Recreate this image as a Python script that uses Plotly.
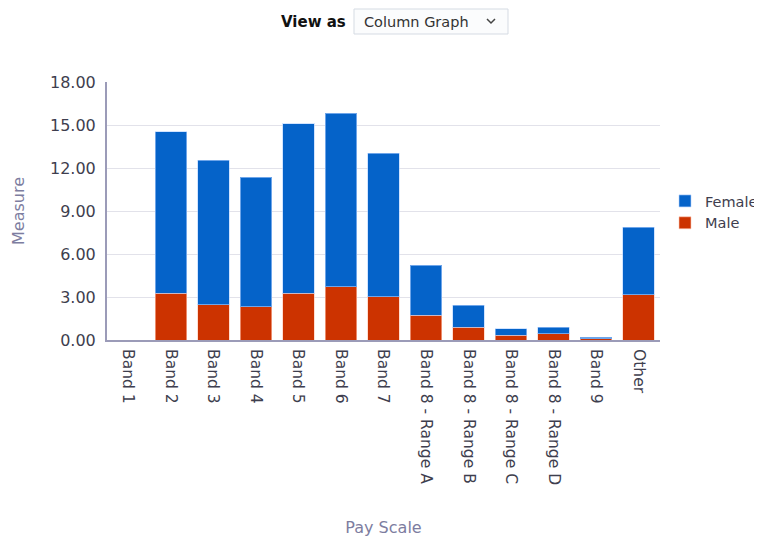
import plotly.graph_objects as go

categories = ["Band 1", "Band 2", "Band 3", "Band 4", "Band 5", "Band 6", "Band 7",
              "Band 8 - Range A", "Band 8 - Range B", "Band 8 - Range C",
              "Band 8 - Range D", "Band 9", "Other"]
male = [0, 3.27, 2.45, 2.31, 3.27, 3.73, 3.03, 1.73, 0.89, 0.33, 0.44, 0.09, 3.15]
female = [0, 11.25, 10.09, 9.04, 11.83, 12.10, 10.00, 3.50, 1.53, 0.47, 0.45, 0.11, 4.70]
y_ticks = [0, 3, 6, 9, 12, 15, 18]
y_tick_labels = ["0.00", "3.00", "6.00", "9.00", "12.00", "15.00", "18.00"]

FONT = "DejaVu Sans"
OFF = 8  # page body margin
W, H = 762 - OFF, 542 - OFF
L, R, T, B = 107 - OFF, 660 - OFF, 82 - OFF, 340 - OFF


def px(x):
    return (x - OFF - L) / (R - L)


def py(y):
    return (B - (y - OFF)) / (B - T)


fig = go.Figure()
fig.add_trace(go.Bar(x=categories, y=male, name="Male",
                     marker=dict(color="#cc3300", line=dict(color="rgba(255,200,180,0.6)", width=1))))
fig.add_trace(go.Bar(x=categories, y=female, name="Female",
                     marker=dict(color="#0563c9", line=dict(color="rgba(180,210,255,0.6)", width=1))))

fig.update_layout(
    width=W, height=H,
    margin=dict(l=L, r=W - R, t=T, b=H - B, autoexpand=False),
    barmode="stack", bargap=0.26,
    plot_bgcolor="white", paper_bgcolor="white",
    font=dict(family=FONT, size=16, color="#3e3e4e"),
    legend=dict(x=px(665), y=py(185), xanchor="left", yanchor="top",
                traceorder="reversed", font=dict(size=14.5, color="#3e3e4e"),
                itemwidth=30, tracegroupgap=0, bgcolor="rgba(0,0,0,0)"),
    xaxis=dict(
        tickangle=90, showgrid=False, showline=True, linecolor="#9b9bb8", linewidth=2,
        ticklabelstandoff=4,
        tickfont=dict(size=15.5, color="#3e3e4e"),
        title=dict(text="Pay Scale", font=dict(size=16, color="#7d7da0"), standoff=38),
        automargin=False,
    ),
    yaxis=dict(
        range=[0, 18], tickvals=y_ticks, ticktext=y_tick_labels,
        showgrid=True, gridcolor="#e2e2ea", gridwidth=1,
        showline=True, linecolor="#9b9bb8", linewidth=2, zeroline=False,
        ticklabelstandoff=6,
        tickfont=dict(size=16, color="#3e3e4e"),
        title=dict(text="Measure", font=dict(size=16, color="#7d7da0"), standoff=21),
        automargin=False,
    ),
    showlegend=True,
)

# "View as" dropdown header
fig.add_shape(type="rect", xref="paper", yref="paper",
              x0=px(354), x1=px(508), y0=py(34), y1=py(9),
              line=dict(color="#d5dbe3", width=1), fillcolor="#fbfcfd", layer="above")
fig.add_annotation(text="<b>View as</b>", xref="paper", yref="paper",
                   x=px(348), y=py(21.5), xanchor="right", yanchor="middle",
                   showarrow=False, font=dict(family=FONT, size=15, color="#111111"))
fig.add_annotation(text="Column Graph", xref="paper", yref="paper",
                   x=px(362), y=py(21.5), xanchor="left", yanchor="middle",
                   showarrow=False, font=dict(family=FONT, size=14.5, color="#333333"))
cx0, cy0 = px(487), py(19)
cx1, cy1 = px(491), py(23)
cx2, cy2 = px(495), py(19)
fig.add_shape(type="path", xref="paper", yref="paper",
              path=f"M {cx0} {cy0} L {cx1} {cy1} L {cx2} {cy2}",
              line=dict(color="#444444", width=1.5), layer="above")

fig.write_html("out.html")
